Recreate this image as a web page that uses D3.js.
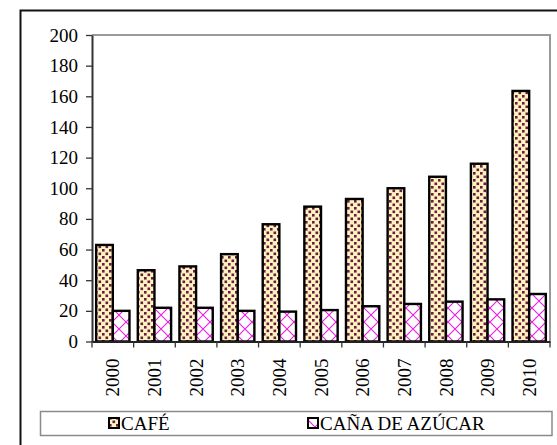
<!DOCTYPE html>
<html>
<head>
<meta charset="utf-8">
<script src="https://cdn.jsdelivr.net/npm/d3@7"></script>
</head>
<body style="margin:0">
<svg id="chart" width="557" height="445" font-family="Liberation Serif"></svg>
<script>
const years = ["2000","2001","2002","2003","2004","2005","2006","2007","2008","2009","2010"];
const cafe  = [63, 46.5, 49, 57, 76.5, 88, 93, 100, 107.5, 116, 163.5];
const cana  = [20, 22, 22, 20, 19.5, 20.5, 23, 24.5, 26, 27.5, 31];
const seriesNames = ["CAFÉ", "CAÑA DE AZÚCAR"];
const yTicks = [0, 20, 40, 60, 80, 100, 120, 140, 160, 180, 200];

const svg = d3.select("#chart");
const FONT = "Liberation Serif";

const defs = svg.append("defs");
const p1 = defs.append("pattern").attr("id", "pCafe")
  .attr("patternUnits", "userSpaceOnUse").attr("width", 7).attr("height", 7);
p1.append("rect").attr("width", 7).attr("height", 7).attr("fill", "#fff4bc");
p1.append("rect").attr("x", 0.5).attr("y", 0.5).attr("width", 2.6).attr("height", 2.6).attr("fill", "#6a1a48");
p1.append("rect").attr("x", 4).attr("y", 4).attr("width", 2.6).attr("height", 2.6).attr("fill", "#6a1a48");

const p2 = defs.append("pattern").attr("id", "pCana")
  .attr("patternUnits", "userSpaceOnUse").attr("width", 14).attr("height", 14);
p2.append("rect").attr("width", 14).attr("height", 14).attr("fill", "#ffffff");
p2.append("path").attr("d", "M0,0 L14,14 M14,0 L0,14 M-1,13 L1,15 M13,-1 L15,1")
  .attr("stroke", "#e81ee0").attr("stroke-width", 1.1).attr("fill", "none");

svg.append("path").attr("d", "M20.5,460 L20.5,10.5 L570,10.5")
  .attr("fill", "none").attr("stroke", "#111").attr("stroke-width", 2);

const pLeft = 92, pRight = 550, pTop = 35, pBottom = 341.5;
const x = d3.scaleBand().domain(years).range([pLeft, pRight]).paddingInner(0).paddingOuter(0);
const y = d3.scaleLinear().domain([0, 200]).range([pBottom, pTop]);

svg.append("path").attr("d", `M${pLeft},${pTop} L${pRight},${pTop} L${pRight},${pBottom}`)
  .attr("fill", "none").attr("stroke", "#9a9a9a").attr("stroke-width", 2);

const bw = x.bandwidth();
const barW = bw / 2.5;
const offs = bw * 0.25 / 2.5;
const g = svg.append("g");
const data = years.map((yr, i) => ({ yr, a: cafe[i], b: cana[i] }));
g.selectAll("rect.cafe").data(data).enter().append("rect")
  .attr("class", "cafe")
  .attr("x", d => x(d.yr) + offs)
  .attr("y", d => y(d.a))
  .attr("width", barW)
  .attr("height", d => y(0) - y(d.a))
  .attr("fill", "url(#pCafe)").attr("stroke", "#000").attr("stroke-width", 2.4);
g.selectAll("rect.cana").data(data).enter().append("rect")
  .attr("class", "cana")
  .attr("x", d => x(d.yr) + offs + barW)
  .attr("y", d => y(d.b))
  .attr("width", barW)
  .attr("height", d => y(0) - y(d.b))
  .attr("fill", "url(#pCana)").attr("stroke", "#000").attr("stroke-width", 2.4);

const yAxis = d3.axisLeft(y).tickValues(yTicks).tickSize(6).tickSizeOuter(0).tickPadding(8);
const ya = svg.append("g").attr("transform", `translate(${pLeft},0)`).call(yAxis);
ya.attr("font-family", FONT).attr("font-size", 19);
ya.select(".domain").attr("stroke", "#333").attr("stroke-width", 2);
ya.selectAll(".tick line").attr("stroke", "#333").attr("stroke-width", 1.3);
ya.selectAll(".tick text").attr("fill", "#000");

const xAxis = d3.axisBottom(x).tickSize(0).tickSizeOuter(0).tickPadding(0);
const xa = svg.append("g").attr("transform", `translate(0,${pBottom})`).call(xAxis);
xa.attr("font-family", FONT).attr("font-size", 19);
xa.select(".domain").attr("stroke", "#222").attr("stroke-width", 2);
xa.selectAll(".tick text")
  .attr("fill", "#000")
  .attr("transform", "rotate(-90)")
  .attr("text-anchor", "end")
  .attr("x", -17).attr("y", 0).attr("dy", "0.35em");
const bounds = years.map(yv => x(yv)).concat([pRight]);
xa.selectAll("line.bt").data(bounds).enter().append("line").attr("class", "bt")
  .attr("x1", d => d).attr("x2", d => d).attr("y1", 0).attr("y2", 6)
  .attr("stroke", "#333").attr("stroke-width", 1.3);

const lg = svg.append("g").attr("font-family", FONT).attr("font-size", 19);
lg.append("rect").attr("x", 40.5).attr("y", 411.5).attr("width", 511.5).attr("height", 24)
  .attr("fill", "#fff").attr("stroke", "#8a8a8a").attr("stroke-width", 1.5);
const legItems = [
  { name: seriesNames[0], fill: "url(#pCafe)", sx: 109 },
  { name: seriesNames[1], fill: "url(#pCana)", sx: 308 }
];
legItems.forEach(it => {
  lg.append("rect").attr("x", it.sx).attr("y", 418).attr("width", 10).attr("height", 10)
    .attr("fill", it.fill).attr("stroke", "#000").attr("stroke-width", 2);
  lg.append("text").attr("x", it.sx + 12).attr("y", 430)
    .attr("fill", "#000")
    .text(it.name);
});
</script>
</body>
</html>
